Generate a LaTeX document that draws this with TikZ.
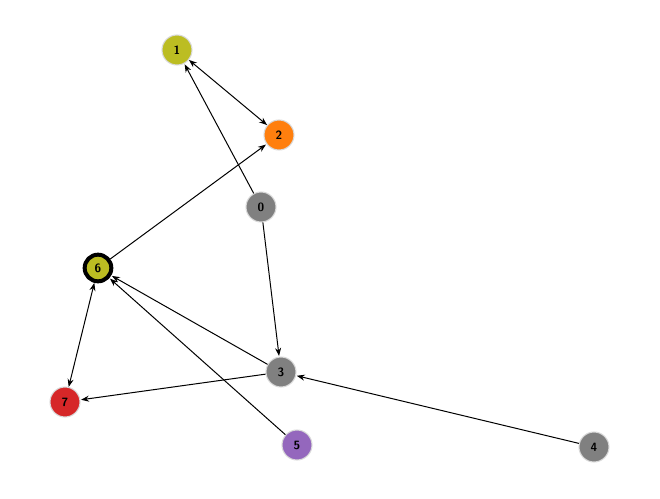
\documentclass[tikz,border=0pt]{standalone}
\usetikzlibrary{arrows.meta}
\definecolor{olive}{HTML}{BCBD22}
\definecolor{orng}{HTML}{FF7F0E}
\definecolor{gry}{HTML}{808080}
\definecolor{rd}{HTML}{D62728}
\definecolor{purp}{HTML}{9467BD}
\tikzset{
  vertex/.style={circle, draw=black!15, line width=0.8pt, minimum size=22.5pt, inner sep=0pt, font=\sffamily\bfseries\small},
  edge/.style={-{Stealth[length=6pt,width=4.5pt]}, shorten >=0.5pt, line width=0.75pt},
  biedge/.style={{Stealth[length=6pt,width=4.5pt]}-{Stealth[length=6pt,width=4.5pt]}, line width=0.75pt}
}
\begin{document}
\begin{tikzpicture}[x=0.75pt,y=0.75pt,yscale=-1,xscale=1]
\useasboundingbox (0,0) rectangle (660,499);

\node [vertex, fill=gry] (n0) at (261,207) {0};
\node [vertex, fill=olive] (n1) at (177,50) {1};
\node [vertex, fill=orng] (n2) at (279,135) {2};
\node [vertex, fill=gry] (n3) at (281,372) {3};
\node [vertex, fill=gry] (n4) at (594,447) {4};
\node [vertex, fill=purp] (n5) at (297,445) {5};
\node [vertex, fill=olive, draw=black, line width=3pt, minimum size=20pt] (n6) at (98,268) {6};
\node [vertex, fill=rd] (n7) at (65,402) {7};

\draw [edge] (n0) -- (n1);
\draw [biedge] (n1) -- (n2);
\draw [edge] (n6) -- (n2);
\draw [edge] (n0) -- (n3);
\draw [edge] (n3) -- (n6);
\draw [edge] (n3) -- (n7);
\draw [edge] (n5) -- (n6);
\draw [edge] (n4) -- (n3);
\draw [biedge] (n6) -- (n7);
\end{tikzpicture}
\end{document}
